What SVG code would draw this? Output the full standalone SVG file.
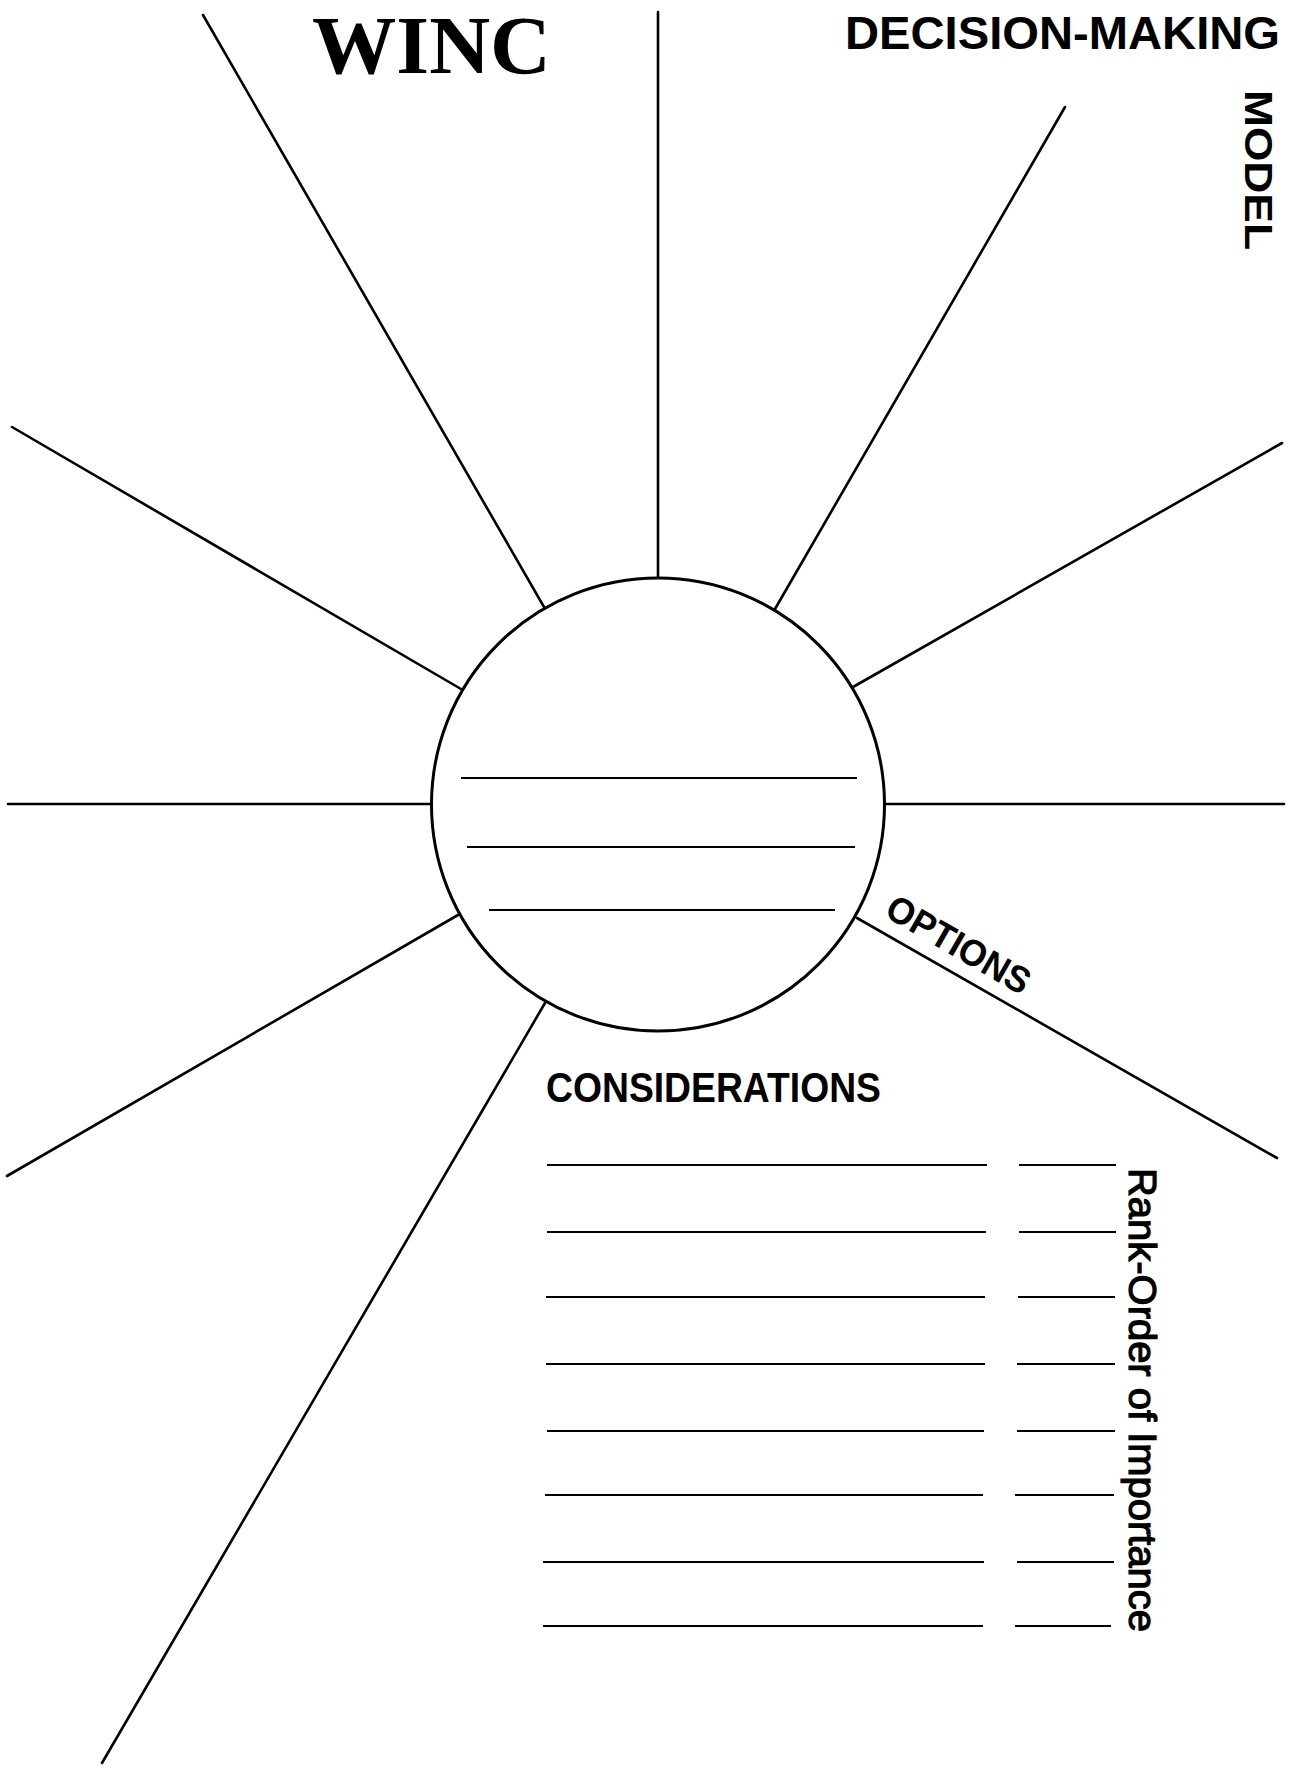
<svg xmlns="http://www.w3.org/2000/svg" width="1290" height="1773" viewBox="0 0 1290 1773">
<style>
.sp{stroke:#000;stroke-width:2.6;fill:none;stroke-linecap:round}
.hub{stroke:#000;stroke-width:3;fill:#fff}
.in{stroke:#000;stroke-width:2;fill:none}
.ln{stroke:#000;stroke-width:2;fill:none}
.sans{font-family:"Liberation Sans",Arial,sans-serif;fill:#000}
.serif{font-family:"Liberation Serif","Times New Roman",serif;fill:#000}
</style>
<rect width="1290" height="1773" fill="#fff"/>
<g id="connectors">
<line class="sp" x1="658" y1="12" x2="658" y2="577"/>
<line class="sp" x1="203" y1="15" x2="544" y2="607"/>
<line class="sp" x1="1065" y1="107" x2="775" y2="609"/>
<line class="sp" x1="12" y1="427" x2="461" y2="689"/>
<line class="sp" x1="1282" y1="443" x2="853" y2="687"/>
<line class="sp" x1="8" y1="804" x2="431" y2="804"/>
<line class="sp" x1="885" y1="804" x2="1284" y2="804"/>
<line class="sp" x1="458" y1="915" x2="7" y2="1176"/>
<line class="sp" x1="857" y1="918" x2="1277" y2="1158"/>
<line class="sp" x1="545" y1="1003" x2="102" y2="1763"/>
</g>
<g id="hub">
<circle class="hub" cx="658" cy="804.5" r="226.5"/>
<line class="in" x1="461" y1="778" x2="857" y2="778"/>
<line class="in" x1="467" y1="847" x2="855" y2="847"/>
<line class="in" x1="489" y1="910" x2="835" y2="910"/>
</g>
<g id="title-winc">
<text class="serif" x="312" y="73" font-size="82" font-weight="bold" textLength="239" lengthAdjust="spacingAndGlyphs">WINC</text>
</g>
<g id="title-decision">
<text class="sans" x="845" y="49" font-size="47" font-weight="bold" textLength="435" lengthAdjust="spacingAndGlyphs">DECISION-MAKING</text>
</g>
<g id="title-model">
<text class="sans" transform="translate(1245,90) rotate(90)" font-size="38" font-weight="bold" textLength="160" lengthAdjust="spacingAndGlyphs">MODEL</text>
</g>
<g id="label-options">
<text class="sans" transform="translate(883,915.6) rotate(30)" font-size="37" font-weight="bold" textLength="160" lengthAdjust="spacingAndGlyphs">OPTIONS</text>
</g>
<g id="considerations">
<text class="sans" x="546" y="1102" font-size="42" font-weight="bold" textLength="335" lengthAdjust="spacingAndGlyphs">CONSIDERATIONS</text>
<g id="consideration-lines">
<line class="ln" x1="547" y1="1165" x2="987" y2="1165"/><line class="ln" x1="1019" y1="1165" x2="1116" y2="1165"/>
<line class="ln" x1="547" y1="1232" x2="986" y2="1232"/><line class="ln" x1="1019" y1="1232" x2="1116" y2="1232"/>
<line class="ln" x1="546" y1="1297" x2="985" y2="1297"/><line class="ln" x1="1018" y1="1297" x2="1115" y2="1297"/>
<line class="ln" x1="546" y1="1364" x2="985" y2="1364"/><line class="ln" x1="1017" y1="1364" x2="1115" y2="1364"/>
<line class="ln" x1="547" y1="1431" x2="984" y2="1431"/><line class="ln" x1="1017" y1="1431" x2="1115" y2="1431"/>
<line class="ln" x1="545" y1="1495" x2="983" y2="1495"/><line class="ln" x1="1015" y1="1495" x2="1114" y2="1495"/>
<line class="ln" x1="543" y1="1562" x2="984" y2="1562"/><line class="ln" x1="1017" y1="1562" x2="1114" y2="1562"/>
<line class="ln" x1="543" y1="1626" x2="983" y2="1626"/><line class="ln" x1="1015" y1="1626" x2="1111" y2="1626"/>
</g>
<text class="sans" transform="translate(1129,1168) rotate(90)" font-size="39" textLength="464" lengthAdjust="spacingAndGlyphs" stroke="#000" stroke-width="1.2">Rank-Order of Importance</text>
</g>
</svg>
